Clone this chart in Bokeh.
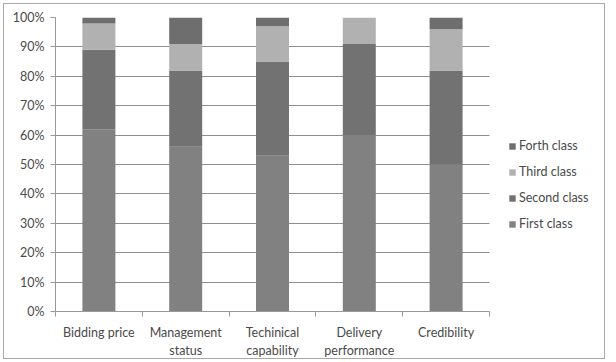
from bokeh.plotting import figure
from bokeh.models import (Range1d, LinearAxis, FixedTicker, ColumnDataSource,
                          NumeralTickFormatter, Legend, LegendItem)
from bokeh.embed import file_html
from bokeh.resources import INLINE

# Share of suppliers in each class, per evaluation criterion (fractions)
criteria = ["Bidding price", "Management\nstatus", "Techinical\ncapability",
            "Delivery\nperformance", "Credibility"]
classes = ["First class", "Second class", "Third class", "Forth class"]
first_class = [0.62, 0.56, 0.53, 0.60, 0.50]
second_class = [0.27, 0.26, 0.32, 0.31, 0.32]
third_class = [0.09, 0.09, 0.12, 0.09, 0.14]
forth_class = [0.02, 0.09, 0.03, 0.00, 0.04]
y_ticks = [0, 0.1, 0.2, 0.3, 0.4, 0.5, 0.6, 0.7, 0.8, 0.9, 1.0]

colors = ["#818181", "#727272", "#b1b1b1", "#6e6e6e"]
FONT = "Lato"
FONT_SIZE = "12.5px"
TEXT = "#4a4a4a"
LINE = "#999999"

W, H = 602, 356
LEFT, TOP, BOTTOM = 51, 13, 47
BARS_PX = 434            # width taken by the five category slots
n = len(criteria)
centers = [i + 0.5 for i in range(n)]
source = ColumnDataSource(dict(x=centers, first=first_class, second=second_class,
                               third=third_class, forth=forth_class))

# the frame also holds the legend area to the right of the bars
x_end = n * (W - LEFT) / BARS_PX
p = figure(x_range=Range1d(0, x_end), y_range=Range1d(0, 1),
           x_axis_location=None,
           width=W, height=H,
           min_border_left=LEFT, min_border_right=0,
           min_border_top=TOP, min_border_bottom=BOTTOM,
           output_backend="svg", toolbar_location=None,
           margin=(3, 0, 0, 3),
           styles={"border": "1px solid #a9a9a9"})

renderers = p.vbar_stack(["first", "second", "third", "forth"], x="x",
                         width=0.38, color=colors, line_color=None,
                         source=source)

p.outline_line_color = None
p.xgrid.grid_line_color = None
p.ygrid.grid_line_color = "#8f8f8f"
p.ygrid.ticker = FixedTicker(ticks=y_ticks)
p.ygrid.cross_bounds = (0, n)

# y axis
p.yaxis.ticker = FixedTicker(ticks=y_ticks)
p.yaxis.formatter = NumeralTickFormatter(format="0%")
p.yaxis.axis_line_color = LINE
p.yaxis.major_tick_line_color = LINE
p.yaxis.major_tick_out = 5
p.yaxis.major_tick_in = 0
p.yaxis.minor_tick_line_color = None
p.yaxis.major_label_standoff = 6
p.yaxis.major_label_text_font = FONT
p.yaxis.major_label_text_font_size = FONT_SIZE
p.yaxis.major_label_text_color = TEXT

# category boundary ticks along the bottom (no labels of their own)
edges = list(range(n + 1))
edge_axis = LinearAxis(ticker=FixedTicker(ticks=edges), bounds=(0, n),
                       major_label_overrides={e: "" for e in edges},
                       major_label_standoff=0,
                       axis_line_color=LINE, major_tick_line_color=LINE,
                       major_tick_out=5, major_tick_in=0,
                       minor_tick_line_color=None)

# category names under each bar
cat_axis = LinearAxis(ticker=FixedTicker(ticks=centers),
                      major_label_overrides={c: name for c, name in zip(centers, criteria)},
                      axis_line_color=None, major_tick_line_color=None,
                      minor_tick_line_color=None,
                      major_label_standoff=2,
                      major_label_text_font=FONT,
                      major_label_text_font_size=FONT_SIZE,
                      major_label_text_color=TEXT)
p.add_layout(edge_axis, "below")
p.add_layout(cat_axis, "below")

items = [LegendItem(label=name, renderers=[r])
         for name, r in zip(classes, renderers)][::-1]
legend = Legend(items=items, location=(BARS_PX + 19, 80),
                glyph_width=8, glyph_height=8, label_height=14,
                spacing=11, padding=0, margin=0,
                label_standoff=3,
                label_text_font=FONT, label_text_font_size=FONT_SIZE,
                label_text_color=TEXT,
                border_line_color=None, background_fill_alpha=0)
p.add_layout(legend, "center")

open("out.html", "w").write(file_html(p, INLINE))
